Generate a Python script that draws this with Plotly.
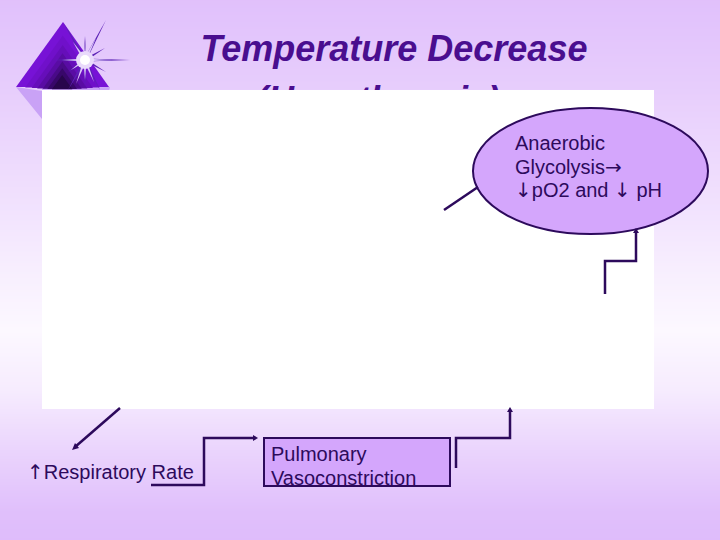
import plotly.graph_objects as go

# Texte de la diapositive
ARROW = '<span style="font-family:DejaVu Sans">{}</span>'
TITLE_LINES = ["Temperature Decrease", "(Hypothermia)"]
ELLIPSE_LINES = ["Anaerobic", "Glycolysis" + ARROW.format("→"), ARROW.format("↓") + "pO2 and " + ARROW.format("↓") + " pH"]
BOX_LINES = ["Pulmonary", "Vasoconstriction"]
RATE_LABEL = ARROW.format("↑") + "Respiratory Rate"

# Fond dégradé (0 = presque blanc, 1 = lavande)
BG_STOPS = [-30, 30, 90, 150, 210, 270, 330, 390, 450, 510, 570]
BG_LEVELS = [0.95, 0.82, 0.68, 0.52, 0.36, 0.18, 0.03, 0.22, 0.58, 0.9, 1.0]

DARK = "#2D0A5C"
TITLE_COLOR = "#4A0E8F"
FILL = "#D4A6FC"
FONT = "Liberation Sans"

# Dégradé du losange, du bord vers le coeur sombre
DIAMOND_SCALES = [1.0, 0.8, 0.66, 0.54, 0.42, 0.32, 0.22]
DIAMOND_COLORS = ["#7712D6", "#7010CA", "#660EBA", "#590CA4", "#490A88", "#38076A", "#28054C"]


def poly(points, color, width=0, line=None):
	path = "M " + " L ".join(f"{x},{y}" for x, y in points) + " Z"
	return dict(type="path", path=path, fillcolor=color, layer="above",
		line=dict(color=line or color, width=width))


def polyline(points, width=2.5):
	path = "M " + " L ".join(f"{x},{y}" for x, y in points)
	return dict(type="path", path=path, layer="above", line=dict(color=DARK, width=width))


def ray(x, y, w=1.4, cx=85, cy=60):
	# Rayon fin de l'étoile, du centre vers (x, y)
	dx, dy = x - cx, y - cy
	n = (dx * dx + dy * dy) ** 0.5
	px, py = -dy / n * w, dx / n * w
	return [(cx + px, cy + py), (x, y), (cx - px, cy - py), (cx - dx * 0.08, cy - dy * 0.08)]


fig = go.Figure()

fig.add_trace(go.Heatmap(
	x=[-10, 730], y=BG_STOPS, z=[[v, v] for v in BG_LEVELS],
	zmin=0, zmax=1, zsmooth="best", showscale=False, hoverinfo="skip",
	colorscale=[[0, "#FDFAFF"], [1, "#DDB9FB"]],
))

# Titre dans une trace : le cadre blanc doit passer par-dessus
fig.add_trace(go.Scatter(
	x=[394, 378], y=[52, 103], mode="text", text=TITLE_LINES, hoverinfo="skip",
	textposition="middle center",
	textfont=dict(family=FONT, size=36, color=TITLE_COLOR, weight="bold", style="italic"),
))

shapes = []

# Logo : ombre puis losange dégradé
shapes.append(poly([(16, 87), (42, 119), (42, 88), (110, 87), (109, 91), (42, 91)], "#C9A2F6"))
for s, c in zip(DIAMOND_SCALES, DIAMOND_COLORS):
	corners = [(63, 22), (16, 87), (109, 87)]
	shapes.append(poly([(62 + (x - 62) * s, 90 + (y - 90) * s) for x, y in corners], c))

# Logo : étoile (rayons sombres, puis coeur clair)
for x, y in [(130, 60), (52, 60), (106, 20), (63, 22), (85, 36), (85, 88), (68, 90), (100, 90), (106, 72), (105, 48), (68, 72)]:
	shapes.append(poly(ray(x, y), "#5B22B5"))
for x, y in [(112, 60), (62, 60), (96, 38), (73, 42), (85, 44), (85, 80), (76, 84), (94, 82), (71, 70)]:
	shapes.append(poly(ray(x, y, w=1.6), "#DCC8F8"))
shapes.append(dict(type="circle", x0=76, x1=94, y0=51, y1=69, layer="above",
	fillcolor="#E9DAFB", line=dict(width=0)))
shapes.append(dict(type="circle", x0=80, x1=90, y0=55, y1=65, layer="above",
	fillcolor="#FFFFFF", line=dict(width=0)))

# Cadre blanc qui masque le bas du titre et du logo
shapes.append(dict(type="rect", x0=42, x1=654, y0=90, y1=409, layer="above",
	fillcolor="#FFFFFF", line=dict(width=0)))

# Ellipse et boîte
shapes.append(dict(type="circle", x0=473, x1=708, y0=108, y1=234, layer="above",
	fillcolor=FILL, line=dict(color=DARK, width=2)))
shapes.append(dict(type="rect", x0=264, x1=450, y0=438, y1=486, layer="above",
	fillcolor=FILL, line=dict(color=DARK, width=2)))

# Flèches
shapes.append(polyline([(120, 408), (75, 447)]))
shapes.append(poly([(72, 450), (79, 448), (75, 443)], DARK))
shapes.append(polyline([(151, 485), (204, 485), (204, 438), (255, 438)]))
shapes.append(poly([(258, 438), (253, 435), (253, 441)], DARK))
shapes.append(polyline([(456, 468), (456, 438), (510, 438), (510, 411)]))
shapes.append(poly([(510, 407), (507, 412), (513, 412)], DARK))
shapes.append(polyline([(605, 294), (605, 261), (636, 261), (636, 232)]))
shapes.append(poly([(636, 228), (633, 233), (639, 233)], DARK))
shapes.append(polyline([(444, 210), (478, 187)]))

fig.update_layout(
	width=720, height=540, margin=dict(l=0, r=0, t=0, b=0),
	showlegend=False, shapes=shapes,
	paper_bgcolor="#FFFFFF", plot_bgcolor="#FFFFFF",
	xaxis=dict(range=[0, 720], visible=False, fixedrange=True),
	yaxis=dict(range=[540, 0], visible=False, fixedrange=True),
)


def label(text, x, y):
	fig.add_annotation(x=x, y=y, text=text, showarrow=False, xanchor="left", yanchor="middle",
		font=dict(family=FONT, size=20, color=DARK))


for line, y in zip(ELLIPSE_LINES, [143, 167, 190]):
	label(line, 513, y)
for line, y in zip(BOX_LINES, [454, 478]):
	label(line, 269, y)
label(RATE_LABEL, 25, 472)

# La page garde sinon la marge de 8px du navigateur
fig.write_html("out.html", post_script="document.body.style.margin='0';", config={"displayModeBar": False})
